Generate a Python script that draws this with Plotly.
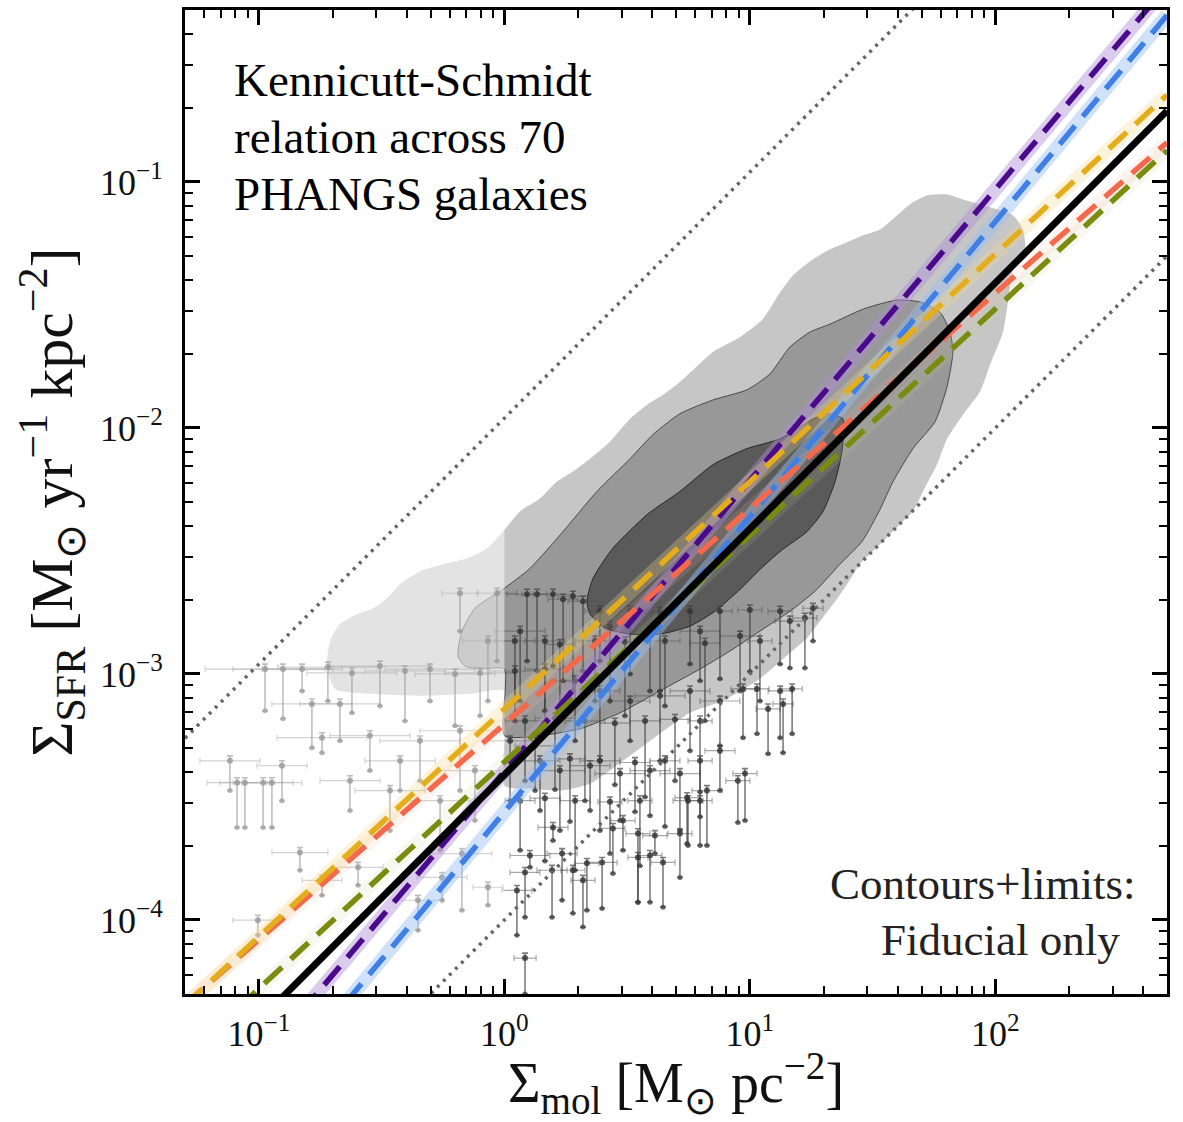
import numpy as np
import plotly.graph_objects as go

# ---------------- axis ranges / ticks ----------------
x_range = [0.05, 500]
y_range = [5e-5, 0.5]
x_major = [0.1, 1, 10, 100]
x_major_text = ["10<sup>−1</sup>", "10<sup>0</sup>", "10<sup>1</sup>", "10<sup>2</sup>"]
y_major = [1e-4, 1e-3, 1e-2, 1e-1]
y_major_text = ["10<sup>−4</sup>", "10<sup>−3</sup>", "10<sup>−2</sup>", "10<sup>−1</sup>"]

# ---------------- fitted relations (log10 slope / intercept at Σmol = 1) ----------------
fit_names = ["blue", "purple", "olive", "salmon", "gold", "black"]
fit_slopes = [1.20, 1.183, 0.921, 0.876, 0.925, 1.00]
fit_intercepts = [-3.561, -3.396, -3.358, -3.204, -3.143, -3.41]
# constant depletion-time lines (slope 1): 100 Myr and 10 Gyr
tdep_intercepts = [-1.96, -4.0]

# ---------------- density contours (log10 coordinates) ----------------
outer_lx = [-0.723, -0.71, -0.67, -0.60, -0.535, -0.478, -0.425, -0.344, -0.25, -0.152, -0.071, -0.006,
            0.064, 0.145, 0.214, 0.279, 0.349, 0.43, 0.512, 0.581, 0.646, 0.715, 0.85, 0.96, 1.053, 1.123,
            1.176, 1.257, 1.326, 1.396, 1.461, 1.53, 1.599, 1.664, 1.721, 1.803, 1.868, 1.978, 2.072, 2.112,
            2.121, 2.072, 2.051, 2.031, 1.978, 1.937, 1.868, 1.803, 1.762, 1.705, 1.664, 1.611, 1.53, 1.448,
            1.396, 1.339, 1.286, 1.233, 1.163, 1.029, 0.89, 0.756, 0.622, 0.483, 0.349, 0.226, 0.104, 0.0,
            0.0, -0.14, -0.344, -0.547, -0.69]
outer_ly = [-2.968, -2.866, -2.797, -2.757, -2.733, -2.692, -2.635, -2.583, -2.554, -2.53, -2.489, -2.421,
            -2.339, -2.287, -2.218, -2.177, -2.125, -2.056, -1.963, -1.906, -1.865, -1.813, -1.691, -1.63,
            -1.557, -1.448, -1.379, -1.314, -1.274, -1.245, -1.217, -1.193, -1.136, -1.083, -1.055, -1.051,
            -1.071, -1.103, -1.136, -1.193, -1.286, -1.355, -1.488, -1.61, -1.744, -1.853, -1.946, -2.044,
            -2.149, -2.258, -2.339, -2.392, -2.473, -2.554, -2.635, -2.716, -2.785, -2.854, -2.915, -3.028,
            -3.109, -3.158, -3.251, -3.353, -3.446, -3.474, -3.466, -3.454, -3.069, -3.081, -3.089, -3.081,
            -3.061]
mid_lx = [-0.189, -0.173, -0.12, -0.006, 0.104, 0.239, 0.377, 0.512, 0.605, 0.715, 0.85, 0.988, 1.082,
          1.163, 1.245, 1.326, 1.461, 1.599, 1.693, 1.774, 1.815, 1.827, 1.803, 1.754, 1.664, 1.583, 1.53,
          1.457, 1.367, 1.265, 1.163, 1.041, 0.919, 0.797, 0.634, 0.471, 0.308, 0.145, 0.0, 0.0, -0.099,
          -0.16]
mid_ly = [-2.927, -2.826, -2.733, -2.656, -2.571, -2.421, -2.258, -2.125, -2.027, -1.942, -1.886, -1.845,
          -1.78, -1.671, -1.61, -1.578, -1.517, -1.48, -1.488, -1.529, -1.61, -1.691, -1.833, -1.975, -2.084,
          -2.218, -2.331, -2.461, -2.554, -2.664, -2.745, -2.826, -2.907, -2.98, -3.069, -3.158, -3.223,
          -3.251, -3.251, -2.98, -2.98, -2.968]
inner_lx = [0.336, 0.361, 0.442, 0.581, 0.715, 0.85, 0.988, 1.123, 1.257, 1.326, 1.379, 1.375, 1.347,
            1.298, 1.233, 1.123, 1.041, 0.96, 0.858, 0.756, 0.634, 0.512, 0.41, 0.349]
inner_ly = [-2.704, -2.611, -2.489, -2.352, -2.258, -2.149, -2.084, -2.044, -1.963, -1.942, -1.963, -2.096,
            -2.218, -2.339, -2.421, -2.502, -2.575, -2.656, -2.745, -2.806, -2.838, -2.838, -2.814, -2.757]

# ---------------- individual measurements / limits (log10) ----------------
pt_lx = [-0.975, -0.902, -0.824, -0.719, -0.621, -0.507, -0.405, -0.303, -0.201, -0.099, -0.784, -0.670,
         -0.743, -0.548, -0.344, -0.181, -1.089, -1.057, -0.983, -0.947, -0.906, -0.833, -1.004, -0.743,
         -0.596, -0.352, -0.254, -0.173, -0.067, -0.181, -0.030, -0.466, -0.262, -0.120, -0.629, -1.118,
         -0.425, -0.067,
         0.092, 0.133, 0.198, 0.239, 0.279, 0.320, 0.064, 0.430, 0.593, 0.797, 0.960, 1.163, 1.224, 1.257,
         0.043, 0.165, 0.288, 0.389, 0.512, 0.634, 0.756, 0.878, 0.972, 1.029, 1.074, 1.123, 1.135, 1.172,
         0.023, 0.125, 0.226, 0.349, 0.471, 0.593, 0.715, 0.748, 0.825, 0.980, 0.951, 0.878, 0.198, 0.104,
         0.084, 0.051, 0.084, 0.194, 0.235, 0.279, 0.320, 0.336, 0.398, 0.442, 0.483, 0.544, 0.544, 0.593,
         0.613, 0.646, 0.715, 0.797, 0.744,
         0.043, 0.165, 0.226, 0.369, 0.491, 0.654, 0.817, 1.041,
         0.084, 0.206, 0.328, 0.450, 0.573, 0.695, 0.797,
         0.145, 0.267, 0.389, 0.532, 0.654, 0.797,
         0.064, 0.165, 0.288, 0.430, 0.552,
         0.389, 0.512, 0.634, 0.756, 0.878, 1.000, 1.123]
pt_ly = [-2.980, -2.980, -2.980, -2.972, -2.996, -2.968, -2.988, -2.980, -3.000, -2.996, -3.122, -3.122,
         -3.259, -3.251, -3.272, -3.231, -3.442, -3.442, -3.442, -3.442, -3.373, -3.726, -4.001, -3.839,
         -3.786, -3.920, -3.827, -3.730, -3.867, -2.672, -2.672, -3.474, -3.515, -3.393, -3.434, -3.353,
         -3.353, -2.866,
         -2.676, -2.676, -2.676, -2.696, -2.684, -2.704, -2.826, -2.806, -2.826, -2.826, -2.846, -2.785,
         -2.773, -2.733, -2.988, -2.980, -3.028, -3.069, -3.110, -3.089, -3.069, -3.110, -3.061, -3.061,
         -3.142, -3.069, -3.122, -3.061, -3.272, -3.292, -3.393, -3.373, -3.405, -3.393, -3.405, -3.515,
         -3.474, -3.405, -3.434, -3.312, -3.624, -3.738, -3.807, -3.880, -4.155, -3.798, -3.730, -3.798,
         -3.839, -3.770, -3.766, -3.628, -3.596, -3.649, -3.746, -3.738, -3.657, -3.766, -3.649, -3.515,
         -3.503,
         -2.866, -2.866, -2.880, -2.866, -2.870, -2.866, -2.875, -2.866,
         -3.191, -3.180, -3.191, -3.200, -3.191, -3.185, -3.191,
         -3.353, -3.345, -3.353, -3.360, -3.353, -3.353,
         -3.515, -3.505, -3.515, -3.520, -3.515,
         -2.745, -2.745, -2.750, -2.745, -2.745, -2.740, -2.745]
pt_ly_low = [-3.150, -3.182, -3.069, -3.110, -3.158, -3.130, -3.191, -3.110, -3.211, -3.170, -3.300, -3.272,
             -3.320, -3.393, -3.434, -3.474, -3.624, -3.624, -3.624, -3.624, -3.515, -3.798, -4.062, -3.900,
             -3.859, -4.042, -3.920, -3.961, -3.940, -2.826, -2.947, -3.636, -3.717, -3.596, -3.555, -3.474,
             -3.474, -3.110,
             -2.947, -2.988, -2.968, -3.028, -3.069, -2.988, -3.110, -3.110, -3.069, -3.028, -3.069, -2.976,
             -2.976, -2.866, -3.191, -3.231, -3.272, -3.353, -3.272, -3.353, -3.312, -3.292, -3.259, -3.243,
             -3.324, -3.259, -3.320, -3.243, -3.515, -3.474, -3.636, -3.555, -3.596, -3.576, -3.636, -3.697,
             -3.697, -3.596, -3.604, -3.474, -3.677, -3.786, -3.989, -4.062, -4.301, -3.989, -3.920, -3.973,
             -4.029, -3.961, -3.953, -3.811, -3.717, -3.928, -3.928, -3.928, -3.730, -3.948, -3.827, -3.697,
             -3.689,
             -3.110, -3.150, -3.190, -3.110, -3.170, -3.130, -3.190, -3.110,
             -3.434, -3.470, -3.515, -3.450, -3.500, -3.434, -3.480,
             -3.555, -3.600, -3.636, -3.560, -3.620, -3.580,
             -3.717, -3.760, -3.798, -3.730, -3.780,
             -2.947, -3.000, -3.069, -2.960, -3.020, -2.990, -2.960]
pt_dx = [0.244, 0.204, 0.163, 0.204, 0.183, 0.204, 0.163, 0.183, 0.163, 0.143, 0.163, 0.163, 0.183, 0.163,
         0.163, 0.163, 0.122, 0.102, 0.122, 0.122, 0.102, 0.114, 0.102, 0.081, 0.102, 0.102, 0.102, 0.122,
         0.061, 0.073, 0.081, 0.143, 0.122, 0.143, 0.122, 0.122, 0.143, 0.102,
         0.081, 0.061, 0.081, 0.061, 0.061, 0.061, 0.102, 0.081, 0.081, 0.081, 0.081, 0.061, 0.049, 0.041,
         0.102, 0.081, 0.081, 0.081, 0.081, 0.102, 0.081, 0.081, 0.049, 0.049, 0.049, 0.049, 0.041, 0.041,
         0.102, 0.081, 0.102, 0.081, 0.102, 0.081, 0.081, 0.061, 0.061, 0.049, 0.049, 0.061, 0.061, 0.081,
         0.061, 0.061, 0.045, 0.061, 0.061, 0.049, 0.049, 0.049, 0.061, 0.049, 0.049, 0.049, 0.041, 0.049,
         0.049, 0.049, 0.049, 0.049, 0.049,
         0.081, 0.081, 0.061, 0.081, 0.081, 0.061, 0.061, 0.049,
         0.081, 0.081, 0.081, 0.061, 0.061, 0.061, 0.049,
         0.081, 0.061, 0.081, 0.061, 0.061, 0.049,
         0.061, 0.061, 0.061, 0.049, 0.049,
         0.061, 0.061, 0.061, 0.049, 0.049, 0.049, 0.049]

# ---------------- text ----------------
title_lines = ["Kennicutt-Schmidt", "relation across 70", "PHANGS galaxies"]
note_lines = ["Contours+limits:", "Fiducial only"]

# ---------------- styles ----------------
FONT = "Liberation Serif"
fit_colors = {"blue": "#3f7fe6", "purple": "#4a0a8c", "olive": "#7a8c10", "salmon": "#f4694c",
              "gold": "#e4ad1c", "black": "#000000"}
band_colors = {"blue": "rgba(150,190,245,0.45)", "purple": "rgba(175,140,215,0.45)",
               "olive": "rgba(200,210,150,0.15)", "salmon": "rgba(250,180,160,0.15)",
               "gold": "rgba(245,215,140,0.30)"}

fig = go.Figure()


def poly(lx, ly, fill, line_color, line_width):
    xs = 10 ** np.array(lx + lx[:1])
    ys = 10 ** np.array(ly + ly[:1])
    fig.add_trace(go.Scatter(x=xs, y=ys, mode="lines", fill="toself", fillcolor=fill,
                             line=dict(color=line_color, width=line_width, shape="spline", smoothing=0.6),
                             hoverinfo="skip", showlegend=False))


poly(outer_lx, outer_ly, "#c6c6c6", "rgba(0,0,0,0)", 0)
poly(mid_lx, mid_ly, "#989898", "rgba(30,30,30,0.7)", 1)
poly(inner_lx, inner_ly, "#5a5a5a", "rgba(20,20,20,0.8)", 1)

px_ = 10 ** np.array(pt_lx)
py_ = 10 ** np.array(pt_ly)
plow = 10 ** np.array(pt_ly_low)
pdx = np.array(pt_dx)
fig.add_trace(go.Scatter(
    x=px_, y=py_, mode="markers",
    marker=dict(size=6, color="rgba(50,50,50,0.8)"),
    error_y=dict(type="data", symmetric=False, array=py_ * (10 ** 0.02 - 1), arrayminus=py_ - plow,
                 color="rgba(55,55,55,0.65)", thickness=1.6, width=3),
    error_x=dict(type="data", symmetric=False, array=px_ * (10 ** pdx - 1), arrayminus=px_ * (1 - 10 ** -pdx),
                 color="rgba(80,80,80,0.5)", thickness=1.2, width=3),
    hoverinfo="skip", showlegend=False))
fig.add_trace(go.Scatter(x=px_, y=plow, mode="markers", marker=dict(size=5, color="rgba(60,60,60,0.75)"),
                         hoverinfo="skip", showlegend=False))

# fade everything left of Σmol = 1 (non-fiducial region)
fig.add_trace(go.Scatter(x=[x_range[0], 1, 1, x_range[0], x_range[0]],
                         y=[y_range[0], y_range[0], y_range[1], y_range[1], y_range[0]],
                         mode="lines", fill="toself", fillcolor="rgba(255,255,255,0.5)",
                         line=dict(width=0, color="rgba(0,0,0,0)"), hoverinfo="skip", showlegend=False))

lx_line = np.array([np.log10(x_range[0]), np.log10(x_range[1])])
xl = 10 ** lx_line
for b in tdep_intercepts:
    fig.add_trace(go.Scatter(x=xl, y=10 ** (lx_line + b), mode="lines",
                             line=dict(color="#666666", width=3.5, dash="3px,5.5px"),
                             hoverinfo="skip", showlegend=False))

for name, s, b in zip(fit_names, fit_slopes, fit_intercepts):
    if name in band_colors:
        fig.add_trace(go.Scatter(x=xl, y=10 ** (s * lx_line + b), mode="lines",
                                 line=dict(color=band_colors[name], width=14),
                                 hoverinfo="skip", showlegend=False))

for name, s, b in zip(fit_names, fit_slopes, fit_intercepts):
    if name == "black":
        line = dict(color=fit_colors[name], width=7)
    else:
        line = dict(color=fit_colors[name], width=5.5, dash="24px,12px")
    fig.add_trace(go.Scatter(x=xl, y=10 ** (s * lx_line + b), mode="lines", line=line,
                             hoverinfo="skip", showlegend=False))

x_minor = [m * 10.0 ** e for e in range(-2, 3) for m in range(2, 10) if x_range[0] <= m * 10.0 ** e <= x_range[1]]
y_minor = [m * 10.0 ** e for e in range(-5, 0) for m in range(2, 10) if y_range[0] <= m * 10.0 ** e <= y_range[1]]

axis_common = dict(type="log", showgrid=False, zeroline=False, showline=True, linewidth=3, linecolor="black",
                   mirror="allticks", ticks="inside", ticklen=15, tickwidth=2.5, tickcolor="black",
                   tickfont=dict(family=FONT, size=36, color="#111"))

annotations = []
for text, yp in zip(title_lines, [0.9291, 0.8708, 0.8126]):
    annotations.append(dict(xref="paper", yref="paper", x=0.048, y=yp, xanchor="left", yanchor="middle",
                            showarrow=False, text=text, font=dict(family=FONT, size=47, color="black")))
for text, xp, yp in zip(note_lines, [0.8126, 0.830], [0.1115, 0.0547]):
    annotations.append(dict(xref="paper", yref="paper", x=xp, y=yp, xanchor="center", yanchor="middle",
                            showarrow=False, text=text, font=dict(family=FONT, size=45, color="#222")))

fig.update_layout(
    width=1183, height=1122,
    margin=dict(l=185, r=16, t=7, b=128),
    plot_bgcolor="white", paper_bgcolor="white",
    showlegend=False,
    xaxis=dict(range=[np.log10(x_range[0]), np.log10(x_range[1])], tickmode="array", tickvals=x_major,
               ticktext=x_major_text,
               minor=dict(tickmode="array", tickvals=x_minor, ticks="inside", ticklen=8, tickwidth=2,
                          tickcolor="black", showgrid=False),
               title=dict(text="Σ<sub>mol</sub> [M<sub>⊙</sub> pc<sup>−2</sup>]",
                          font=dict(family=FONT, size=56, color="#111"), standoff=8),
               ticklabelstandoff=6,
               **axis_common),
    yaxis=dict(range=[np.log10(y_range[0]), np.log10(y_range[1])], tickmode="array", tickvals=y_major,
               ticktext=y_major_text,
               minor=dict(tickmode="array", tickvals=y_minor, ticks="inside", ticklen=8, tickwidth=2,
                          tickcolor="black", showgrid=False),
               title=dict(text="Σ<sub>SFR</sub> [M<sub>⊙</sub> yr<sup>−1</sup> kpc<sup>−2</sup>]",
                          font=dict(family=FONT, size=60, color="#111"), standoff=8),
               ticklabelstandoff=12,
               **axis_common),
    annotations=annotations,
)

fig.write_html("out.html")
